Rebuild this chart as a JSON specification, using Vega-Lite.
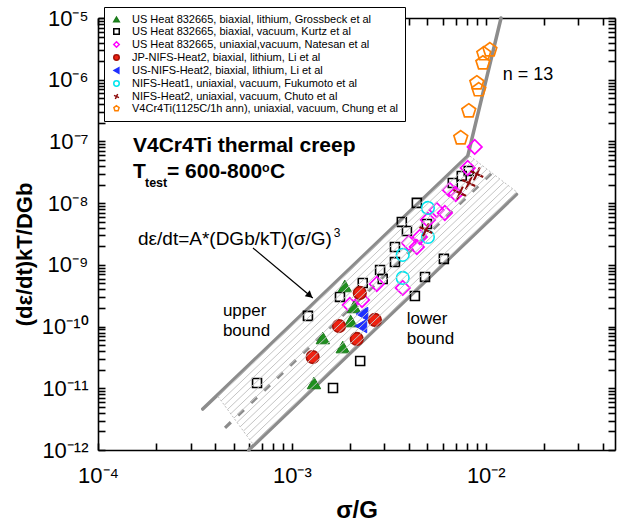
{
"$schema": "https://vega.github.io/schema/vega-lite/v6.json",
"width": 517, "height": 432,
"autosize": {"type": "none"},
"padding": {"left": 98, "top": 18, "right": 5, "bottom": 74},
"background": "white",
"config": {"font": "Liberation Sans", "view": {"stroke": null}, "axis": {"grid": false, "ticks": true, "tickOpacity": 1}},
"datasets": {
 "lines": [
  {"g":"upper","x":3.47e-4,"y":4.60e-12},{"g":"upper","x":8.07e-3,"y":5.78e-8},
  {"g":"n13","x":8.07e-3,"y":5.78e-8},{"g":"n13","x":1.199e-2,"y":1e-5},
  {"g":"lower","x":5.99e-4,"y":1e-12},{"g":"lower","x":1.44e-2,"y":1.389e-8},
  {"g":"dash","x":4.52e-4,"y":2.29e-12},{"g":"dash","x":1.1e-2,"y":3.30e-8},
  {"g":"edgeL","x":4.159e-4,"y":7.362e-12},{"g":"edgeL","x":6.295e-4,"y":1.25e-12},
  {"g":"edgeR","x":8.279e-3,"y":5.808e-8},{"g":"edgeR","x":1.445e-2,"y":1.514e-8},
  {"g":"hatch","id":"h0","x":4.159e-4,"y":7.362e-12},{"g":"hatch","id":"h0","x":8.279e-3,"y":5.808e-8},
  {"g":"hatch","id":"h1","x":4.319e-4,"y":6.27e-12},{"g":"hatch","id":"h1","x":8.710e-3,"y":5.14e-8},
  {"g":"hatch","id":"h2","x":4.484e-4,"y":5.334e-12},{"g":"hatch","id":"h2","x":9.162e-3,"y":4.548e-8},
  {"g":"hatch","id":"h3","x":4.657e-4,"y":4.539e-12},{"g":"hatch","id":"h3","x":9.638e-3,"y":4.024e-8},
  {"g":"hatch","id":"h4","x":4.836e-4,"y":3.865e-12},{"g":"hatch","id":"h4","x":1.014e-2,"y":3.562e-8},
  {"g":"hatch","id":"h5","x":5.022e-4,"y":3.288e-12},{"g":"hatch","id":"h5","x":1.067e-2,"y":3.151e-8},
  {"g":"hatch","id":"h6","x":5.215e-4,"y":2.800e-12},{"g":"hatch","id":"h6","x":1.122e-2,"y":2.790e-8},
  {"g":"hatch","id":"h7","x":5.414e-4,"y":2.382e-12},{"g":"hatch","id":"h7","x":1.180e-2,"y":2.469e-8},
  {"g":"hatch","id":"h8","x":5.622e-4,"y":2.028e-12},{"g":"hatch","id":"h8","x":1.242e-2,"y":2.184e-8},
  {"g":"hatch","id":"h9","x":5.838e-4,"y":1.726e-12},{"g":"hatch","id":"h9","x":1.306e-2,"y":1.933e-8},
  {"g":"hatch","id":"h10","x":6.061e-4,"y":1.469e-12},{"g":"hatch","id":"h10","x":1.374e-2,"y":1.711e-8},
  {"g":"hatch","id":"h11","x":6.295e-4,"y":1.250e-12},{"g":"hatch","id":"h11","x":1.445e-2,"y":1.514e-8}
 ],
 "pts": [
  {"s":"US Heat 832665, biaxial, lithium, Grossbeck et al","x":1.875e-3,"y":4.55e-10},
  {"s":"US Heat 832665, biaxial, lithium, Grossbeck et al","x":2.09e-3,"y":2.08e-10},
  {"s":"US Heat 832665, biaxial, lithium, Grossbeck et al","x":2.01e-3,"y":1.23e-10},
  {"s":"US Heat 832665, biaxial, lithium, Grossbeck et al","x":1.445e-3,"y":6.53e-11},
  {"s":"US Heat 832665, biaxial, lithium, Grossbeck et al","x":1.83e-3,"y":4.66e-11},
  {"s":"US Heat 832665, biaxial, lithium, Grossbeck et al","x":1.30e-3,"y":1.22e-11},
  {"s":"US Heat 832665, biaxial, vacuum, Kurtz et al","x":6.61e-4,"y":1.22e-11},
  {"s":"US Heat 832665, biaxial, vacuum, Kurtz et al","x":1.21e-3,"y":1.49e-10},
  {"s":"US Heat 832665, biaxial, vacuum, Kurtz et al","x":1.63e-3,"y":1.01e-11},
  {"s":"US Heat 832665, biaxial, vacuum, Kurtz et al","x":2.25e-3,"y":2.77e-11},
  {"s":"US Heat 832665, biaxial, vacuum, Kurtz et al","x":1.77e-3,"y":3.02e-10},
  {"s":"US Heat 832665, biaxial, vacuum, Kurtz et al","x":2.32e-3,"y":5.09e-10},
  {"s":"US Heat 832665, biaxial, vacuum, Kurtz et al","x":2.85e-3,"y":8.26e-10},
  {"s":"US Heat 832665, biaxial, vacuum, Kurtz et al","x":2.94e-3,"y":5.90e-10},
  {"s":"US Heat 832665, biaxial, vacuum, Kurtz et al","x":3.40e-3,"y":1.11e-9},
  {"s":"US Heat 832665, biaxial, vacuum, Kurtz et al","x":3.40e-3,"y":1.95e-9},
  {"s":"US Heat 832665, biaxial, vacuum, Kurtz et al","x":3.69e-3,"y":4.96e-9},
  {"s":"US Heat 832665, biaxial, vacuum, Kurtz et al","x":3.92e-3,"y":3.54e-9},
  {"s":"US Heat 832665, biaxial, vacuum, Kurtz et al","x":4.41e-3,"y":1.01e-8},
  {"s":"US Heat 832665, biaxial, vacuum, Kurtz et al","x":4.97e-3,"y":4.60e-9},
  {"s":"US Heat 832665, biaxial, vacuum, Kurtz et al","x":6.08e-3,"y":1.25e-9},
  {"s":"US Heat 832665, biaxial, vacuum, Kurtz et al","x":4.86e-3,"y":6.37e-10},
  {"s":"US Heat 832665, biaxial, vacuum, Kurtz et al","x":4.31e-3,"y":3.13e-10},
  {"s":"US Heat 832665, biaxial, vacuum, Kurtz et al","x":6.76e-3,"y":2.12e-8},
  {"s":"US Heat 832665, biaxial, vacuum, Kurtz et al","x":7.52e-3,"y":2.76e-8},
  {"s":"US Heat 832665, biaxial, vacuum, Kurtz et al","x":8.17e-3,"y":3.33e-8},
  {"s":"US Heat 832665, uniaxial,vacuum, Natesan et al","x":1.99e-3,"y":2.24e-10},
  {"s":"US Heat 832665, uniaxial,vacuum, Natesan et al","x":2.30e-3,"y":2.70e-10},
  {"s":"US Heat 832665, uniaxial,vacuum, Natesan et al","x":2.74e-3,"y":4.90e-10},
  {"s":"US Heat 832665, uniaxial,vacuum, Natesan et al","x":3.73e-3,"y":4.23e-10},
  {"s":"US Heat 832665, uniaxial,vacuum, Natesan et al","x":4.01e-3,"y":2.26e-9},
  {"s":"US Heat 832665, uniaxial,vacuum, Natesan et al","x":4.41e-3,"y":1.95e-9},
  {"s":"US Heat 832665, uniaxial,vacuum, Natesan et al","x":4.57e-3,"y":2.83e-9},
  {"s":"US Heat 832665, uniaxial,vacuum, Natesan et al","x":5.03e-3,"y":5.35e-9},
  {"s":"US Heat 832665, uniaxial,vacuum, Natesan et al","x":5.58e-3,"y":7.76e-9},
  {"s":"US Heat 832665, uniaxial,vacuum, Natesan et al","x":6.15e-3,"y":6.93e-9},
  {"s":"US Heat 832665, uniaxial,vacuum, Natesan et al","x":6.52e-3,"y":1.64e-8},
  {"s":"US Heat 832665, uniaxial,vacuum, Natesan et al","x":7.00e-3,"y":1.41e-8},
  {"s":"US Heat 832665, uniaxial,vacuum, Natesan et al","x":8.07e-3,"y":3.72e-8},
  {"s":"US Heat 832665, uniaxial,vacuum, Natesan et al","x":8.77e-3,"y":8.15e-8},
  {"s":"JP-NIFS-Heat2, biaxial, lithium, Li et al","x":2.24e-3,"y":3.51e-10},
  {"s":"JP-NIFS-Heat2, biaxial, lithium, Li et al","x":1.75e-3,"y":1.02e-10},
  {"s":"JP-NIFS-Heat2, biaxial, lithium, Li et al","x":2.68e-3,"y":1.28e-10},
  {"s":"JP-NIFS-Heat2, biaxial, lithium, Li et al","x":2.16e-3,"y":6.29e-11},
  {"s":"JP-NIFS-Heat2, biaxial, lithium, Li et al","x":1.28e-3,"y":3.21e-11},
  {"s":"US-NIFS-Heat2, biaxial, lithium, Li et al","x":2.30e-3,"y":1.60e-10},
  {"s":"US-NIFS-Heat2, biaxial, lithium, Li et al","x":2.27e-3,"y":1.02e-10},
  {"s":"NIFS-Heat1, uniaxial, vacuum, Fukumoto et al","x":5.03e-3,"y":8.36e-9},
  {"s":"NIFS-Heat1, uniaxial, vacuum, Fukumoto et al","x":5.03e-3,"y":2.83e-9},
  {"s":"NIFS-Heat1, uniaxial, vacuum, Fukumoto et al","x":3.73e-3,"y":1.45e-9},
  {"s":"NIFS-Heat1, uniaxial, vacuum, Fukumoto et al","x":3.73e-3,"y":6.14e-10},
  {"s":"NIFS-Heat2, uniaxial, vacuum, Chuto et al","x":4.91e-3,"y":3.68e-9},
  {"s":"NIFS-Heat2, uniaxial, vacuum, Chuto et al","x":7.35e-3,"y":1.46e-8},
  {"s":"NIFS-Heat2, uniaxial, vacuum, Chuto et al","x":8.17e-3,"y":2.12e-8},
  {"s":"NIFS-Heat2, uniaxial, vacuum, Chuto et al","x":8.99e-3,"y":2.97e-8},
  {"s":"V4Cr4Ti(1125C/1h ann), uniaxial, vacuum, Chung et al","x":1.05e-2,"y":3.04e-6},
  {"s":"V4Cr4Ti(1125C/1h ann), uniaxial, vacuum, Chung et al","x":9.77e-3,"y":2.62e-6},
  {"s":"V4Cr4Ti(1125C/1h ann), uniaxial, vacuum, Chung et al","x":9.66e-3,"y":1.87e-6},
  {"s":"V4Cr4Ti(1125C/1h ann), uniaxial, vacuum, Chung et al","x":8.99e-3,"y":8.87e-7},
  {"s":"V4Cr4Ti(1125C/1h ann), uniaxial, vacuum, Chung et al","x":9.20e-3,"y":6.84e-7},
  {"s":"V4Cr4Ti(1125C/1h ann), uniaxial, vacuum, Chung et al","x":8.17e-3,"y":3.12e-7},
  {"s":"V4Cr4Ti(1125C/1h ann), uniaxial, vacuum, Chung et al","x":7.43e-3,"y":1.14e-7}
 ]
},
"layer": [
 {
  "data": {"name": "lines"},
  "transform": [{"filter": "datum.g === 'upper' || datum.g === 'n13' || datum.g === 'lower'"}],
  "mark": {"type": "line", "color": "#8c8c8c", "strokeWidth": 3.5, "strokeCap": "round"},
  "encoding": {
   "x": {"field": "x", "type": "quantitative", "scale": {"type": "log", "domain": [0.0001, 0.0464], "nice": false},
    "axis": {"orient": "top", "values": [1e-4,2e-4,3e-4,4e-4,5e-4,6e-4,7e-4,8e-4,9e-4,1e-3,2e-3,3e-3,4e-3,5e-3,6e-3,7e-3,8e-3,9e-3,1e-2,2e-2,3e-2,4e-2],
     "labels": false, "title": null, "tickSize": -7, "tickColor": "black", "tickWidth": 1.6,
     "domainColor": "black", "domainWidth": 1.6, "grid": false}},
   "y": {"field": "y", "type": "quantitative", "scale": {"type": "log", "domain": [1e-12, 1e-5], "nice": false},
    "axis": {"orient": "right", "values": [1e-12,2e-12,3e-12,4e-12,5e-12,6e-12,7e-12,8e-12,9e-12,1e-11,2e-11,3e-11,4e-11,5e-11,6e-11,7e-11,8e-11,9e-11,1e-10,2e-10,3e-10,4e-10,5e-10,6e-10,7e-10,8e-10,9e-10,1e-9,2e-9,3e-9,4e-9,5e-9,6e-9,7e-9,8e-9,9e-9,1e-8,2e-8,3e-8,4e-8,5e-8,6e-8,7e-8,8e-8,9e-8,1e-7,2e-7,3e-7,4e-7,5e-7,6e-7,7e-7,8e-7,9e-7,1e-6,2e-6,3e-6,4e-6,5e-6,6e-6,7e-6,8e-6,9e-6,1e-5],
     "labels": false, "title": null, "tickSize": -7, "tickColor": "black", "tickWidth": 1.6,
     "domainColor": "black", "domainWidth": 1.6, "grid": false}},
   "detail": {"field": "g"}
  }
 },
 {
  "data": {"name": "lines"},
  "transform": [{"filter": "datum.g === 'dash'"}],
  "mark": {"type": "line", "color": "#8c8c8c", "strokeWidth": 3.2, "strokeDash": [8, 10]},
  "encoding": {
   "x": {"field": "x", "type": "quantitative", "scale": {"type": "log", "domain": [0.0001, 0.0464], "nice": false}, "axis": null},
   "y": {"field": "y", "type": "quantitative", "scale": {"type": "log", "domain": [1e-12, 1e-5], "nice": false}, "axis": null}
  }
 },
 {
  "data": {"name": "lines"},
  "transform": [{"filter": "datum.g === 'edgeL' || datum.g === 'edgeR'"}],
  "mark": {"type": "line", "color": "#bdbdbd", "strokeWidth": 1, "strokeDash": [2, 2]},
  "encoding": {
   "x": {"field": "x", "type": "quantitative", "scale": {"type": "log", "domain": [0.0001, 0.0464], "nice": false}, "axis": null},
   "y": {"field": "y", "type": "quantitative", "scale": {"type": "log", "domain": [1e-12, 1e-5], "nice": false}, "axis": null},
   "detail": {"field": "g"}
  }
 },
 {
  "data": {"name": "pts"},
  "transform": [{"filter": "datum.s === 'US Heat 832665, biaxial, vacuum, Kurtz et al'"}],
  "mark": {"type": "point", "filled": false, "strokeWidth": 1.6, "opacity": 1, "size": 80},
  "encoding": {
   "x": {"field": "x", "type": "quantitative", "scale": {"type": "log", "domain": [0.0001, 0.0464], "nice": false},
    "axis": {"orient": "bottom", "values": [1e-4,2e-4,3e-4,4e-4,5e-4,6e-4,7e-4,8e-4,9e-4,1e-3,2e-3,3e-3,4e-3,5e-3,6e-3,7e-3,8e-3,9e-3,1e-2,2e-2,3e-2,4e-2],
     "labelExpr": "abs(log(datum.value)/LN10 - round(log(datum.value)/LN10)) < 0.01 ? '10⁻' + (round(-log(datum.value)/LN10) >= 10 ? '¹' + ['⁰','¹','²','³','⁴','⁵','⁶','⁷','⁸','⁹'][round(-log(datum.value)/LN10) - 10] : ['⁰','¹','²','³','⁴','⁵','⁶','⁷','⁸','⁹'][round(-log(datum.value)/LN10)]) : ''",
     "tickSize": -7, "tickColor": "black", "tickWidth": 1.6,
     "domainColor": "black", "domainWidth": 1.6, "grid": false,
     "labelFont": "Liberation Sans", "labelFontSize": 22, "labelColor": "black", "labelPadding": 22, "labelFlush": false, "labelOverlap": false, "labelBound": false,
     "title": "σ/G", "titleFont": "Liberation Sans", "titleFontSize": 24, "titleFontWeight": "bold", "titleColor": "black", "titleY": 67, "titleBaseline": "alphabetic", "titleAlign": "center"}},
   "y": {"field": "y", "type": "quantitative", "scale": {"type": "log", "domain": [1e-12, 1e-5], "nice": false},
    "axis": {"orient": "left", "values": [1e-12,2e-12,3e-12,4e-12,5e-12,6e-12,7e-12,8e-12,9e-12,1e-11,2e-11,3e-11,4e-11,5e-11,6e-11,7e-11,8e-11,9e-11,1e-10,2e-10,3e-10,4e-10,5e-10,6e-10,7e-10,8e-10,9e-10,1e-9,2e-9,3e-9,4e-9,5e-9,6e-9,7e-9,8e-9,9e-9,1e-8,2e-8,3e-8,4e-8,5e-8,6e-8,7e-8,8e-8,9e-8,1e-7,2e-7,3e-7,4e-7,5e-7,6e-7,7e-7,8e-7,9e-7,1e-6,2e-6,3e-6,4e-6,5e-6,6e-6,7e-6,8e-6,9e-6,1e-5],
     "labelExpr": "abs(log(datum.value)/LN10 - round(log(datum.value)/LN10)) < 0.01 ? '10⁻' + (round(-log(datum.value)/LN10) >= 10 ? '¹' + ['⁰','¹','²','³','⁴','⁵','⁶','⁷','⁸','⁹'][round(-log(datum.value)/LN10) - 10] : ['⁰','¹','²','³','⁴','⁵','⁶','⁷','⁸','⁹'][round(-log(datum.value)/LN10)]) : ''",
     "tickSize": -7, "tickColor": "black", "tickWidth": 1.6,
     "domainColor": "black", "domainWidth": 1.6, "grid": false,
     "labelFont": "Liberation Sans", "labelFontSize": 22, "labelColor": "black", "labelPadding": 17, "labelOverlap": false, "labelBound": false, "labelFlush": false,
     "title": "(dε/dt)kT/DGb", "titleFont": "Liberation Sans", "titleFontSize": 22, "titleFontWeight": "bold", "titleColor": "black", "titleAngle": -90, "titleX": -67, "titleY": 236, "titleBaseline": "alphabetic", "titleAlign": "center"}},
   "shape": {"field": "s", "type": "nominal",
    "scale": {"domain": ["US Heat 832665, biaxial, lithium, Grossbeck et al","US Heat 832665, biaxial, vacuum, Kurtz et al","US Heat 832665, uniaxial,vacuum, Natesan et al","JP-NIFS-Heat2, biaxial, lithium, Li et al","US-NIFS-Heat2, biaxial, lithium, Li et al","NIFS-Heat1, uniaxial, vacuum, Fukumoto et al","NIFS-Heat2, uniaxial, vacuum, Chuto et al","V4Cr4Ti(1125C/1h ann), uniaxial, vacuum, Chung et al"],
     "range": ["triangle-up","square","diamond","circle","triangle-left","circle","M-0.906,-0.423L0.906,0.423M0.423,-0.906L-0.423,0.906","M0,-1L0.951,-0.309L0.588,0.809L-0.588,0.809L-0.951,-0.309Z"]},
    "legend": {"orient": "none", "legendX": 6, "legendY": -11, "title": null, "labelFontSize": 11, "labelColor": "black", "symbolSize": 30, "symbolStrokeWidth": 1.5, "rowPadding": 0, "padding": 7, "labelOffset": 10, "strokeColor": "black", "fillColor": "white", "labelLimit": 500}},
   "fill": {"field": "s", "type": "nominal",
    "scale": {"domain": ["US Heat 832665, biaxial, lithium, Grossbeck et al","US Heat 832665, biaxial, vacuum, Kurtz et al","US Heat 832665, uniaxial,vacuum, Natesan et al","JP-NIFS-Heat2, biaxial, lithium, Li et al","US-NIFS-Heat2, biaxial, lithium, Li et al","NIFS-Heat1, uniaxial, vacuum, Fukumoto et al","NIFS-Heat2, uniaxial, vacuum, Chuto et al","V4Cr4Ti(1125C/1h ann), uniaxial, vacuum, Chung et al"],
     "range": ["#1f8f1f","transparent","transparent","#ee2211","#1f2fff","transparent","transparent","transparent"]}},
   "stroke": {"field": "s", "type": "nominal",
    "scale": {"domain": ["US Heat 832665, biaxial, lithium, Grossbeck et al","US Heat 832665, biaxial, vacuum, Kurtz et al","US Heat 832665, uniaxial,vacuum, Natesan et al","JP-NIFS-Heat2, biaxial, lithium, Li et al","US-NIFS-Heat2, biaxial, lithium, Li et al","NIFS-Heat1, uniaxial, vacuum, Fukumoto et al","NIFS-Heat2, uniaxial, vacuum, Chuto et al","V4Cr4Ti(1125C/1h ann), uniaxial, vacuum, Chung et al"],
     "range": ["#1a7a1a","#000000","#ff00ff","#a51208","#1f2fff","#00e5ee","#8b0a0a","#ff8000"]}}
  }
 },
 {
  "data": {"name": "pts"},
  "transform": [{"filter": "datum.s === 'US Heat 832665, uniaxial,vacuum, Natesan et al' || datum.s === 'V4Cr4Ti(1125C/1h ann), uniaxial, vacuum, Chung et al'"}],
  "mark": {"type": "point", "filled": false, "strokeWidth": 1.7, "opacity": 1, "size": 210},
  "encoding": {
   "x": {"field": "x", "type": "quantitative", "scale": {"type": "log", "domain": [0.0001, 0.0464], "nice": false}, "axis": null},
   "y": {"field": "y", "type": "quantitative", "scale": {"type": "log", "domain": [1e-12, 1e-5], "nice": false}, "axis": null},
   "shape": {"field": "s", "type": "nominal"},
   "fill": {"field": "s", "type": "nominal"},
   "stroke": {"field": "s", "type": "nominal"}
  }
 },
 {
  "data": {"name": "pts"},
  "transform": [{"filter": "datum.s === 'US Heat 832665, biaxial, lithium, Grossbeck et al' || datum.s === 'US-NIFS-Heat2, biaxial, lithium, Li et al'"}],
  "mark": {"type": "point", "filled": false, "strokeWidth": 1, "opacity": 1, "size": 180},
  "encoding": {
   "x": {"field": "x", "type": "quantitative", "scale": {"type": "log", "domain": [0.0001, 0.0464], "nice": false}, "axis": null},
   "y": {"field": "y", "type": "quantitative", "scale": {"type": "log", "domain": [1e-12, 1e-5], "nice": false}, "axis": null},
   "shape": {"field": "s", "type": "nominal"},
   "fill": {"field": "s", "type": "nominal"},
   "stroke": {"field": "s", "type": "nominal"}
  }
 },
 {
  "data": {"name": "pts"},
  "transform": [{"filter": "datum.s === 'JP-NIFS-Heat2, biaxial, lithium, Li et al' || datum.s === 'NIFS-Heat1, uniaxial, vacuum, Fukumoto et al'"}],
  "mark": {"type": "point", "filled": false, "strokeWidth": 1.6, "opacity": 1, "size": 160},
  "encoding": {
   "x": {"field": "x", "type": "quantitative", "scale": {"type": "log", "domain": [0.0001, 0.0464], "nice": false}, "axis": null},
   "y": {"field": "y", "type": "quantitative", "scale": {"type": "log", "domain": [1e-12, 1e-5], "nice": false}, "axis": null},
   "shape": {"field": "s", "type": "nominal"},
   "fill": {"field": "s", "type": "nominal"},
   "stroke": {"field": "s", "type": "nominal"}
  }
 },
 {
  "data": {"name": "pts"},
  "transform": [{"filter": "datum.s === 'NIFS-Heat2, uniaxial, vacuum, Chuto et al'"}],
  "mark": {"type": "point", "filled": false, "strokeWidth": 2.2, "opacity": 1, "size": 200},
  "encoding": {
   "x": {"field": "x", "type": "quantitative", "scale": {"type": "log", "domain": [0.0001, 0.0464], "nice": false}, "axis": null},
   "y": {"field": "y", "type": "quantitative", "scale": {"type": "log", "domain": [1e-12, 1e-5], "nice": false}, "axis": null},
   "shape": {"field": "s", "type": "nominal"},
   "fill": {"field": "s", "type": "nominal"},
   "stroke": {"field": "s", "type": "nominal"}
  }
 },
 {
  "data": {"name": "lines"},
  "transform": [{"filter": "datum.g === 'hatch'"}],
  "mark": {"type": "line", "color": "#c4c4c4", "strokeWidth": 1},
  "encoding": {
   "x": {"field": "x", "type": "quantitative", "scale": {"type": "log", "domain": [0.0001, 0.0464], "nice": false}, "axis": null},
   "y": {"field": "y", "type": "quantitative", "scale": {"type": "log", "domain": [1e-12, 1e-5], "nice": false}, "axis": null},
   "detail": {"field": "id"}
  }
 },
 {
  "data": {"values": [{"x": 6.30e-4, "y": 1.88e-9, "x2": 1.282e-3, "y2": 2.91e-10}]},
  "mark": {"type": "rule", "color": "black", "strokeWidth": 1.2},
  "encoding": {
   "x": {"field": "x", "type": "quantitative", "scale": {"type": "log", "domain": [0.0001, 0.0464], "nice": false}, "axis": null},
   "y": {"field": "y", "type": "quantitative", "scale": {"type": "log", "domain": [1e-12, 1e-5], "nice": false}, "axis": null},
   "x2": {"field": "x2"}, "y2": {"field": "y2"}
  }
 },
 {
  "data": {"values": [{"x": 1.238e-3, "y": 3.19e-10}]},
  "mark": {"type": "point", "shape": "triangle-right", "filled": true, "color": "black", "size": 60, "angle": 40, "opacity": 1},
  "encoding": {
   "x": {"field": "x", "type": "quantitative", "scale": {"type": "log", "domain": [0.0001, 0.0464], "nice": false}, "axis": null},
   "y": {"field": "y", "type": "quantitative", "scale": {"type": "log", "domain": [1e-12, 1e-5], "nice": false}, "axis": null}
  }
 },
 {
  "data": {"values": [{"t": "V4Cr4Ti thermal creep", "x": 1.515e-4, "y": 6.76e-8}, {"t": "T", "x": 1.515e-4, "y": 2.56e-8}, {"t": "= 600-800", "x": 2.268e-4, "y": 2.56e-8}, {"t": "C", "x": 7.70e-4, "y": 2.56e-8}]},
  "mark": {"type": "text", "font": "Liberation Sans", "fontSize": 21, "fontWeight": "bold", "align": "left", "baseline": "alphabetic", "color": "black"},
  "encoding": {
   "x": {"field": "x", "type": "quantitative", "scale": {"type": "log", "domain": [0.0001, 0.0464], "nice": false}, "axis": null},
   "y": {"field": "y", "type": "quantitative", "scale": {"type": "log", "domain": [1e-12, 1e-5], "nice": false}, "axis": null},
   "text": {"field": "t"}
  }
 },
 {
  "data": {"values": [{"t": "test", "x": 1.747e-4, "y": 1.83e-8}, {"t": "o", "x": 7.004e-4, "y": 3.21e-8}]},
  "mark": {"type": "text", "font": "Liberation Sans", "fontSize": 12.5, "fontWeight": "bold", "align": "left", "baseline": "alphabetic", "color": "black"},
  "encoding": {
   "x": {"field": "x", "type": "quantitative", "scale": {"type": "log", "domain": [0.0001, 0.0464], "nice": false}, "axis": null},
   "y": {"field": "y", "type": "quantitative", "scale": {"type": "log", "domain": [1e-12, 1e-5], "nice": false}, "axis": null},
   "text": {"field": "t"}
  }
 },
 {
  "data": {"values": [{"t": "dε/dt=A*(DGb/kT)(σ/G)", "x": 1.608e-4, "y": 2.10e-9}]},
  "mark": {"type": "text", "font": "Liberation Sans", "fontSize": 19, "align": "left", "baseline": "alphabetic", "color": "black"},
  "encoding": {
   "x": {"field": "x", "type": "quantitative", "scale": {"type": "log", "domain": [0.0001, 0.0464], "nice": false}, "axis": null},
   "y": {"field": "y", "type": "quantitative", "scale": {"type": "log", "domain": [1e-12, 1e-5], "nice": false}, "axis": null},
   "text": {"field": "t"}
  }
 },
 {
  "data": {"values": [{"t": "3", "x": 1.646e-3, "y": 2.83e-9}]},
  "mark": {"type": "text", "font": "Liberation Sans", "fontSize": 12, "align": "left", "baseline": "alphabetic", "color": "black"},
  "encoding": {
   "x": {"field": "x", "type": "quantitative", "scale": {"type": "log", "domain": [0.0001, 0.0464], "nice": false}, "axis": null},
   "y": {"field": "y", "type": "quantitative", "scale": {"type": "log", "domain": [1e-12, 1e-5], "nice": false}, "axis": null},
   "text": {"field": "t"}
  }
 },
 {
  "data": {"values": [{"t": "n = 13", "x": 1.224e-2, "y": 9.93e-7}]},
  "mark": {"type": "text", "font": "Liberation Sans", "fontSize": 18, "align": "left", "baseline": "alphabetic", "color": "black"},
  "encoding": {
   "x": {"field": "x", "type": "quantitative", "scale": {"type": "log", "domain": [0.0001, 0.0464], "nice": false}, "axis": null},
   "y": {"field": "y", "type": "quantitative", "scale": {"type": "log", "domain": [1e-12, 1e-5], "nice": false}, "axis": null},
   "text": {"field": "t"}
  }
 },
 {
  "data": {"values": [{"t": "upper", "x": 4.408e-4, "y": 1.486e-10}, {"t": "bound", "x": 4.408e-4, "y": 7.04e-11}, {"t": "lower", "x": 3.916e-3, "y": 1.10e-10}, {"t": "bound", "x": 3.916e-3, "y": 5.22e-11}]},
  "mark": {"type": "text", "font": "Liberation Sans", "fontSize": 17, "align": "left", "baseline": "alphabetic", "color": "black"},
  "encoding": {
   "x": {"field": "x", "type": "quantitative", "scale": {"type": "log", "domain": [0.0001, 0.0464], "nice": false}, "axis": null},
   "y": {"field": "y", "type": "quantitative", "scale": {"type": "log", "domain": [1e-12, 1e-5], "nice": false}, "axis": null},
   "text": {"field": "t"}
  }
 }
],
"resolve": {"axis": {"x": "independent", "y": "independent"}}
}
